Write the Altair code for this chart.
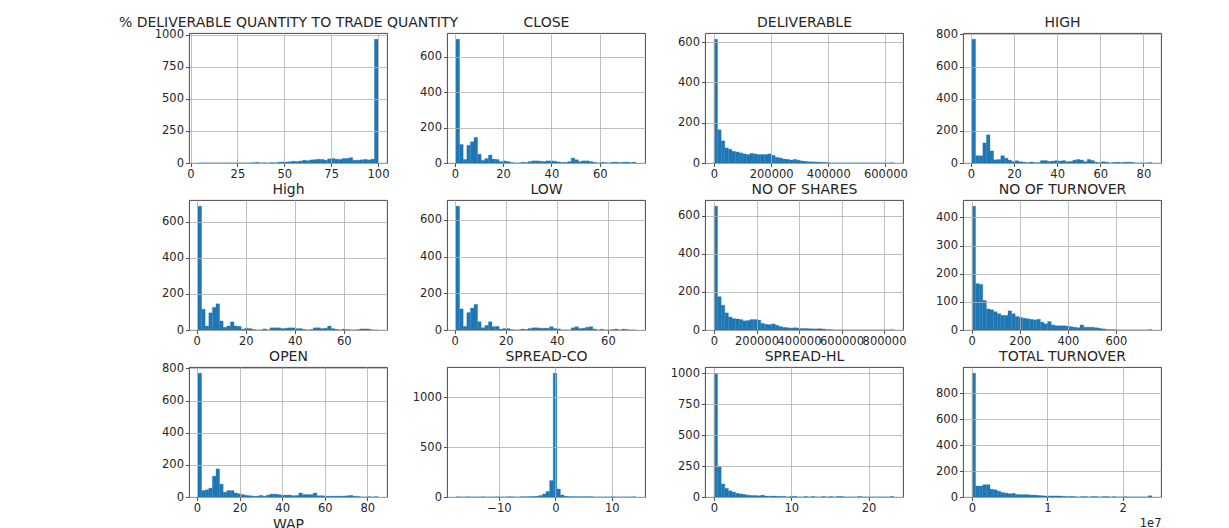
import altair as alt
import numpy as np
import pandas as pd

# ---------------- data ----------------
TITLES = [
    "% DELIVERABLE QUANTITY TO TRADE QUANTITY", "CLOSE", "DELIVERABLE", "HIGH",
    "High", "LOW", "NO OF SHARES", "NO OF TURNOVER",
    "OPEN", "SPREAD-CO", "SPREAD-HL", "TOTAL TURNOVER",
]

# data range (min, max) of each column; 50 equal bins between them
RANGE_PCT = (4, 100)
RANGE_CLOSE = (0.5, 75)
RANGE_DELIV = (0, 630000)
RANGE_HIGH = (0.5, 84)
RANGE_HIGH2 = (0.5, 74)
RANGE_LOW = (0.5, 71)
RANGE_SHARES = (0, 847000)
RANGE_NTURN = (1, 750)
RANGE_OPEN = (0.5, 85)
RANGE_SPCO = (-17.6, 14.3)
RANGE_SPHL = (0, 23.3)
RANGE_TTURN = (0, 23900000)

COUNT_PCT = [0, 0, 0, 0, 0, 0, 0, 0, 0, 0, 0, 0, 0, 0, 0, 2, 5, 0, 1, 0,
             3, 1, 6, 8, 8, 10, 14, 12, 15, 22, 18, 24, 26, 30, 28, 22, 32, 35, 30, 28,
             35, 36, 42, 22, 22, 25, 28, 24, 30, 965]
COUNT_CLOSE = [700, 105, 20, 100, 120, 145, 50, 15, 25, 45, 22, 20, 8, 12, 8, 2, 0, 0, 4, 2,
               8, 12, 12, 10, 8, 12, 12, 10, 6, 3, 3, 8, 28, 18, 8, 12, 12, 8, 3, 0,
               4, 2, 0, 4, 5, 2, 4, 5, 2, 5]
COUNT_DELIV = [615, 165, 110, 75, 68, 58, 55, 50, 45, 42, 48, 45, 42, 42, 42, 45, 38, 28, 25, 20,
               18, 15, 18, 14, 10, 8, 6, 6, 5, 4, 3, 2, 0, 0, 0, 0, 0, 0, 0, 0,
               0, 0, 0, 0, 0, 0, 0, 0, 0, 1]
COUNT_HIGH = [770, 45, 45, 125, 175, 75, 20, 22, 45, 30, 18, 10, 14, 8, 5, 2, 6, 2, 2, 15,
              15, 10, 12, 15, 12, 15, 8, 10, 18, 22, 18, 8, 22, 15, 5, 3, 8, 5, 0, 4,
              5, 2, 5, 5, 4, 0, 0, 0, 0, 2]
COUNT_HIGH2 = [685, 115, 22, 95, 125, 145, 50, 15, 22, 45, 22, 20, 5, 10, 8, 3, 0, 0, 6, 0,
               12, 12, 12, 8, 10, 12, 12, 8, 8, 3, 0, 2, 12, 12, 8, 10, 22, 8, 3, 0,
               5, 2, 0, 0, 2, 6, 6, 5, 0, 0]
COUNT_LOW = [675, 115, 20, 95, 120, 140, 45, 12, 25, 45, 18, 20, 5, 8, 8, 2, 0, 0, 5, 2,
             8, 12, 12, 10, 10, 10, 18, 8, 6, 0, 0, 0, 12, 18, 8, 10, 15, 18, 5, 0,
             4, 0, 0, 2, 5, 0, 5, 2, 0, 0]
COUNT_SHARES = [650, 175, 130, 90, 68, 60, 58, 55, 48, 50, 55, 55, 52, 35, 30, 28, 32, 25, 18, 14,
                12, 10, 12, 10, 8, 8, 7, 6, 6, 7, 5, 2, 2, 0, 0, 0, 0, 0, 0, 0,
                0, 0, 0, 0, 0, 0, 0, 0, 0, 1]
COUNT_NTURN = [440, 165, 162, 105, 75, 72, 65, 58, 52, 52, 68, 58, 48, 45, 42, 40, 38, 36, 38, 28,
               22, 30, 18, 15, 15, 15, 14, 12, 10, 8, 18, 10, 10, 10, 8, 6, 4, 2, 1, 1,
               0, 0, 0, 0, 0, 0, 0, 0, 0, 1]
COUNT_OPEN = [770, 40, 45, 55, 130, 175, 80, 30, 40, 40, 25, 20, 15, 10, 8, 5, 5, 10, 5, 12,
              18, 18, 15, 12, 12, 12, 8, 10, 25, 15, 15, 15, 25, 8, 8, 5, 5, 5, 5, 5,
              5, 8, 10, 5, 3, 0, 0, 2, 0, 2]
COUNT_SPCO = [2, 0, 0, 2, 0, 0, 0, 2, 0, 0, 0, 2, 0, 0, 2, 2, 0, 0, 3, 3,
              4, 5, 8, 15, 30, 55, 165, 1240, 80, 20, 8, 4, 3, 3, 3, 3, 3, 3, 0, 0,
              0, 0, 0, 2, 0, 0, 0, 0, 0, 2]
COUNT_SPHL = [1000, 245, 105, 70, 50, 40, 30, 25, 20, 15, 12, 12, 10, 15, 8, 6, 8, 6, 5, 5,
              0, 5, 5, 0, 0, 4, 0, 4, 0, 0, 4, 0, 4, 0, 4, 4, 0, 0, 0, 0,
              4, 0, 0, 0, 0, 0, 0, 0, 0, 4]
COUNT_TTURN = [955, 85, 85, 95, 95, 60, 55, 45, 35, 30, 25, 28, 20, 18, 18, 18, 15, 15, 12, 10,
               8, 8, 8, 8, 8, 5, 3, 5, 3, 0, 3, 3, 0, 3, 3, 0, 3, 3, 0, 3,
               0, 0, 2, 0, 0, 0, 0, 0, 0, 10]

RANGES = [RANGE_PCT, RANGE_CLOSE, RANGE_DELIV, RANGE_HIGH, RANGE_HIGH2, RANGE_LOW,
          RANGE_SHARES, RANGE_NTURN, RANGE_OPEN, RANGE_SPCO, RANGE_SPHL, RANGE_TTURN]
COUNTS = [COUNT_PCT, COUNT_CLOSE, COUNT_DELIV, COUNT_HIGH, COUNT_HIGH2, COUNT_LOW,
          COUNT_SHARES, COUNT_NTURN, COUNT_OPEN, COUNT_SPCO, COUNT_SPHL, COUNT_TTURN]

X_TICKS = [
    [0, 25, 50, 75, 100], [0, 20, 40, 60], [0, 200000, 400000, 600000], [0, 20, 40, 60, 80],
    [0, 20, 40, 60], [0, 20, 40, 60], [0, 200000, 400000, 600000, 800000], [0, 200, 400, 600],
    [0, 20, 40, 60, 80], [-10, 0, 10], [0, 10, 20], [0, 10000000, 20000000],
]
Y_TICKS = [
    [0, 250, 500, 750, 1000], [0, 200, 400, 600], [0, 200, 400, 600], [0, 200, 400, 600, 800],
    [0, 200, 400, 600], [0, 200, 400, 600], [0, 200, 400, 600], [0, 100, 200, 300, 400],
    [0, 200, 400, 600, 800], [0, 500, 1000], [0, 250, 500, 750, 1000], [0, 200, 400, 600, 800],
]
X_AXIS_TITLES = {8: "WAP", 11: "1e7"}

# ---------------- styling ----------------
BLUE = "#1f77b4"
FONT = "DejaVu Sans"
TXT = "#262626"
W, H = 198, 130
TICK_FS = 11.5
TITLE_FS = 14


def panel(i):
    lo, hi = RANGES[i]
    counts = COUNTS[i]
    edges = np.linspace(lo, hi, len(counts) + 1)
    df = pd.DataFrame({"start": edges[:-1], "end": edges[1:], "count": counts})
    span = hi - lo
    xscale = alt.Scale(domain=[lo - 0.05 * span, hi + 0.05 * span], nice=False, zero=False)
    yscale = alt.Scale(domain=[0, max(counts) * 1.05], nice=False)

    xaxis_kw = dict(
        orient="bottom", values=X_TICKS[i], grid=True, gridColor="#b0b0b0", gridWidth=0.8,
        domain=False, ticks=True, tickSize=3.5, tickColor=TXT, tickWidth=0.8,
        labelFont=FONT, labelFontSize=TICK_FS, labelColor=TXT, labelPadding=2,
        labelFlush=False, labelOverlap=False, zindex=1,
    )
    if i == 11:
        xaxis_kw["labelExpr"] = "format(datum.value / 1e7, 'd')"
    else:
        xaxis_kw["format"] = "d"
    if i == 8:
        xaxis_kw.update(title="WAP", titleFont=FONT, titleFontSize=TITLE_FS,
                        titleFontWeight="normal", titleColor=TXT, titlePadding=3)
    elif i == 11:
        xaxis_kw.update(title="1e7", titleFont=FONT, titleFontSize=TICK_FS,
                        titleFontWeight="normal", titleColor=TXT, titleAnchor="end",
                        titlePadding=3)

    yaxis = alt.Axis(
        values=Y_TICKS[i], grid=True, gridColor="#b0b0b0", gridWidth=0.8,
        domain=False, ticks=True, tickSize=3.5, tickColor=TXT, tickWidth=0.8,
        labelFont=FONT, labelFontSize=TICK_FS, labelColor=TXT, labelPadding=2,
        labelFlush=False, labelOverlap=False, format="d", zindex=1,
    )

    if i in X_AXIS_TITLES:
        xenc = alt.X("start:Q", scale=xscale, axis=alt.Axis(**xaxis_kw))
    else:
        xenc = alt.X("start:Q", scale=xscale, axis=alt.Axis(**xaxis_kw), title=None)

    bars = (
        alt.Chart(df)
        .mark_rect(color=BLUE, stroke=BLUE, strokeWidth=0.3)
        .encode(
            x=xenc,
            x2="end:Q",
            y=alt.Y("count:Q", scale=yscale, axis=yaxis, title=None),
            y2=alt.datum(0),
        )
    )

    # panel title drawn as a top-axis title so it sits at a fixed distance above the frame
    top = (
        alt.Chart(df)
        .mark_rect(opacity=0)
        .encode(
            x=alt.X("start:Q", scale=xscale,
                    axis=alt.Axis(orient="top", title=TITLES[i], labels=False, ticks=False,
                                  grid=False, domain=False, minExtent=0, maxExtent=0,
                                  titleFont=FONT, titleFontSize=TITLE_FS,
                                  titleFontWeight="normal", titleColor=TXT,
                                  titleBaseline="alphabetic", titlePadding=7,
                                  titleLimit=1000)),
            x2="end:Q",
        )
    )

    return alt.layer(bars, top).resolve_axis(x="independent").properties(width=W, height=H)


chart = (
    alt.concat(*[panel(i) for i in range(12)], columns=4,
               spacing={"row": 37, "column": 60}, bounds="flush")
    .properties(padding={"left": 117, "top": 14, "right": 5, "bottom": 0}, background="white")
    .configure_view(stroke="#333333", strokeWidth=0.9)
)

chart.save("out.html", embed_options={"renderer": "svg", "actions": False})
